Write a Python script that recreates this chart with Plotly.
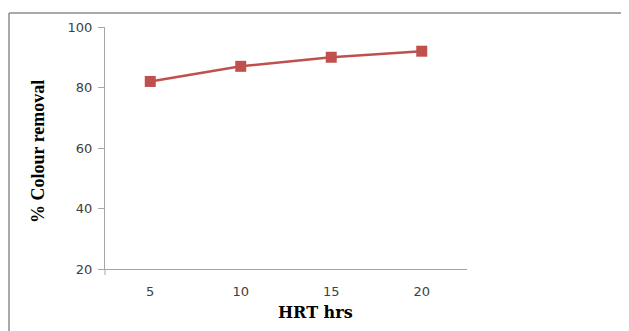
import plotly.graph_objects as go

hrt = ["5", "10", "15", "20"]
colour_removal = [82, 87, 90, 92]
y_ticks = [20, 40, 60, 80, 100]

OFF = 8  # page body margin
W, H = 629 - OFF, 331 - OFF
L, R, T, B = 105 - OFF, 467 - OFF, 25 - OFF, 269 - OFF
pw, ph = R - L, B - T

def px(x):
    return (x - OFF - L) / pw

def py(y):
    return (B - (y - OFF)) / ph

fig = go.Figure()
fig.add_trace(go.Scatter(
    x=hrt, y=colour_removal, mode="lines+markers",
    line=dict(color="#C0504D", width=2.5),
    marker=dict(symbol="square", size=11, color="#C0504D"),
    showlegend=False, cliponaxis=False,
))

axis_color = "#A6A6A6"
tick_font = dict(family="DejaVu Sans, sans-serif", size=13, color="#404040")
fig.update_layout(
    width=W, height=H,
    margin=dict(l=L, r=W - R, t=T, b=H - B, pad=0),
    paper_bgcolor="white", plot_bgcolor="white",
    font=tick_font,
    xaxis=dict(
        type="category", range=[-0.5, 3.5], showgrid=False, zeroline=False,
        showline=True, linecolor=axis_color, linewidth=1,
        ticks="", ticklabelstandoff=10,
        tickfont=tick_font,
    ),
    yaxis=dict(
        range=[20, 100], tickvals=y_ticks, showgrid=False, zeroline=False,
        showline=True, linecolor=axis_color, linewidth=1,
        ticks="outside", ticklen=6, tickcolor=axis_color,
        tickfont=tick_font, ticklabelstandoff=3,
    ),
    shapes=[
        dict(type="line", xref="paper", yref="paper",
             x0=px(9), x1=px(640), y0=py(11), y1=py(11),
             line=dict(color="#8C8C8C", width=1.5)),
        dict(type="line", xref="paper", yref="paper",
             x0=px(9), x1=px(9), y0=py(11), y1=py(340),
             line=dict(color="#8C8C8C", width=1.5)),
        dict(type="line", xref="paper", yref="paper",
             x0=0, x1=0, y0=0, y1=py(275),
             line=dict(color=axis_color, width=1)),
    ],
    annotations=[
        dict(text="<b>HRT hrs</b>", xref="paper", yref="paper",
             x=px(315), y=py(313), xanchor="center", yanchor="middle",
             showarrow=False,
             font=dict(family="DejaVu Serif, Liberation Serif, serif", size=16, color="black")),
        dict(text="<b>% Colour removal</b>", xref="paper", yref="paper",
             x=px(38), y=py(151), xanchor="center", yanchor="middle",
             showarrow=False, textangle=-90,
             font=dict(family="Liberation Serif, Times New Roman, serif", size=18, color="black")),
    ],
)

fig.write_html("out.html")
